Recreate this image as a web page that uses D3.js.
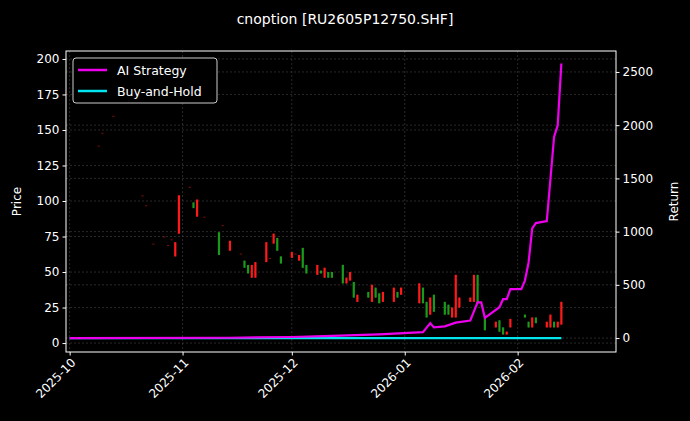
<!DOCTYPE html>
<html><head><meta charset="utf-8">
<script src="https://cdn.jsdelivr.net/npm/d3@7"></script>
<style>body{margin:0;background:#000}svg{font-family:"DejaVu Sans",sans-serif}</style>
</head><body><svg id="c" width="690" height="421"></svg>
<script>
// candle data: date, open, high, low, close
const candleDates = ["2025-10-09","2025-10-10","2025-10-13","2025-10-21","2025-10-22","2025-10-24","2025-10-27","2025-10-28","2025-10-29","2025-10-30","2025-10-31","2025-11-03","2025-11-04","2025-11-05","2025-11-07","2025-11-11","2025-11-12","2025-11-14","2025-11-17","2025-11-18","2025-11-19","2025-11-20","2025-11-21","2025-11-24","2025-11-25","2025-11-26","2025-11-27","2025-11-28","2025-12-01","2025-12-02","2025-12-03","2025-12-04","2025-12-05","2025-12-08","2025-12-09","2025-12-10","2025-12-11","2025-12-12","2025-12-15","2025-12-16","2025-12-17","2025-12-18","2025-12-19","2025-12-22","2025-12-23","2025-12-24","2025-12-25","2025-12-26","2025-12-29","2025-12-30","2025-12-31","2026-01-05","2026-01-06","2026-01-07","2026-01-08","2026-01-09","2026-01-12","2026-01-13","2026-01-14","2026-01-15","2026-01-16","2026-01-19","2026-01-20","2026-01-21","2026-01-23","2026-01-26","2026-01-27","2026-01-28","2026-01-29","2026-01-30","2026-02-03","2026-02-04","2026-02-05","2026-02-06","2026-02-09","2026-02-10","2026-02-11","2026-02-12","2026-02-13"];
const candleOpen  = [139,148,160,104,97,70,75,69,73,61,77,110,99,89,89,78,83,65,63,58,55,46,46,57,60,70,74,61,60,63,58,67,55,48,51,46,50,50,55,42,44,43,29,36,29,39,35,29,29,36,34,28,39,29,20,34,29,27,18,18,25,29,29,48,18,11,16,11,6,11,20,15,11,18,11,11,15,11,13];
const candleHigh  = [139,148,160,104,97,70,75,69,73,71,104,110,99,101,89,78,83,72,63,58,55,55,57,71,60,77,74,61,64,63,62,67,55,55,51,53,50,50,55,46,50,43,34,36,41,39,35,36,39,36,39,42,39,29,32,34,29,27,25,48,32,32,48,48,18,15,16,11,8,17,20,15,18,18,15,20,15,15,29];
const candleLow   = [139,148,160,104,97,70,75,69,73,61,77,110,95,89,89,62,83,65,63,53,49,46,46,57,60,70,65,56,60,63,58,53,49,48,49,46,46,46,42,42,44,32,29,32,29,32,28,29,29,32,34,28,28,18,20,22,20,20,18,18,25,29,29,28,9,11,8,6,6,11,18,11,11,14,11,11,11,11,13];
const candleClose = [139,148,160,104,97,70,75,69,73,71,104,110,95,101,89,62,83,72,63,53,49,55,57,71,60,77,65,56,64,63,62,53,49,55,49,53,46,46,42,46,50,32,34,32,41,32,28,36,39,32,39,42,28,18,32,22,20,20,25,48,32,32,48,28,9,15,8,6,8,17,18,11,18,14,15,20,11,15,29];
// return series
const strategyDates = ["2025-10-01","2025-11-14","2025-12-01","2025-12-12","2025-12-25","2026-01-06","2026-01-08","2026-01-09","2026-01-12","2026-01-15","2026-01-19","2026-01-20","2026-01-21","2026-01-22","2026-01-23","2026-01-27","2026-01-28","2026-01-29","2026-01-30","2026-02-02","2026-02-03","2026-02-04","2026-02-05","2026-02-06","2026-02-09","2026-02-11","2026-02-12","2026-02-13"];
const strategyValues = [0,3,10,20,35,55,140,100,110,145,165,250,335,335,190,290,365,365,460,460,540,710,1030,1080,1100,1890,2000,2580];
const holdDates = ["2025-10-01","2026-02-13"];
const holdValues = [0,0];
const leftTicks = [0,25,50,75,100,125,150,175,200];
const rightTicks = [0,500,1000,1500,2000,2500];
const xTicks = ["2025-10-01","2025-11-01","2025-12-01","2026-01-01","2026-02-01"];

const p = d3.timeParse("%Y-%m-%d");
const svg = d3.select("#c");
const L=66,R=616,T=51,B=352;
const x = d3.scaleTime().domain([p("2025-09-30"), p("2026-02-28")]).range([L,R]);
const y = d3.scaleLinear().domain([-6.3,205.6]).range([B,T]);
const y2 = d3.scaleLinear().domain([-131,2697]).range([B,T]);

svg.append("rect").attr("width",690).attr("height",421).attr("fill","#000");
const g = svg.append("g");
const gc="#444";
xTicks.forEach(t=>g.append("line").attr("x1",x(p(t))).attr("x2",x(p(t))).attr("y1",T).attr("y2",B).attr("stroke",gc).attr("stroke-width",0.6).attr("stroke-dasharray","2,2"));
leftTicks.forEach(t=>g.append("line").attr("x1",L).attr("x2",R).attr("y1",y(t)).attr("y2",y(t)).attr("stroke",gc).attr("stroke-width",0.6).attr("stroke-dasharray","2,2"));
rightTicks.forEach(t=>g.append("line").attr("x1",L).attr("x2",R).attr("y1",y2(t)).attr("y2",y2(t)).attr("stroke",gc).attr("stroke-width",0.6).attr("stroke-dasharray","2,2"));

const cw=2.2;
candleDates.forEach((d,i)=>{
  const o=candleOpen[i],h=candleHigh[i],l=candleLow[i],c=candleClose[i];
  const col = c>=o ? "#ff1a1a" : "#1a9a1a";
  const cx=x(p(d));
  g.append("line").attr("x1",cx).attr("x2",cx).attr("y1",y(h)).attr("y2",y(l)).attr("stroke",col).attr("stroke-width",0.8);
  const top=y(Math.max(o,c)), hh=Math.max(1,Math.abs(y(o)-y(c)));
  g.append("rect").attr("x",cx-cw/2).attr("y",top).attr("width",cw).attr("height",hh).attr("fill",col).attr("opacity",Math.abs(o-c)<0.5?0.5:1);
});

const line = d3.line().x(d=>x(d[0])).y(d=>y2(d[1]));
g.append("path").datum(holdDates.map((d,i)=>[p(d),holdValues[i]])).attr("d",line).attr("fill","none").attr("stroke","#00e5ee").attr("stroke-width",2.2);
g.append("path").datum(strategyDates.map((d,i)=>[p(d),strategyValues[i]])).attr("d",line).attr("fill","none").attr("stroke","#ee00ee").attr("stroke-width",2.2);

svg.append("rect").attr("x",L).attr("y",T).attr("width",R-L).attr("height",B-T).attr("fill","none").attr("stroke","#fff").attr("stroke-width",1);

const ax = svg.append("g").attr("transform",`translate(0,${B})`).call(d3.axisBottom(x).tickValues(xTicks.map(p)).tickFormat(d3.timeFormat("%Y-%m")).tickSize(3.5));
ax.selectAll("text").attr("transform","rotate(-45)").style("text-anchor","end").attr("dx","-0.3em").attr("dy","0.5em");
const ay = svg.append("g").attr("transform",`translate(${L},0)`).call(d3.axisLeft(y).tickValues(leftTicks).tickSize(3.5));
const ay2 = svg.append("g").attr("transform",`translate(${R},0)`).call(d3.axisRight(y2).tickValues(rightTicks).tickFormat(d3.format("d")).tickSize(3.5));
[ax,ay,ay2].forEach(a=>{a.select(".domain").remove();a.selectAll("line").attr("stroke","#fff");a.selectAll("text").attr("fill","#fff").style("font-size","12px").style("font-family","DejaVu Sans");});

svg.append("text").attr("x",345).attr("y",24).attr("text-anchor","middle").attr("fill","#fff").style("font-size","14px").text("cnoption [RU2605P12750.SHF]");
svg.append("text").attr("transform",`translate(21,${(T+B)/2}) rotate(-90)`).attr("text-anchor","middle").attr("fill","#fff").style("font-size","12px").text("Price");
svg.append("text").attr("transform",`translate(678,${(T+B)/2}) rotate(-90)`).attr("text-anchor","middle").attr("fill","#fff").style("font-size","12px").text("Return");

const lg = svg.append("g");
lg.append("rect").attr("x",73).attr("y",58).attr("width",144).attr("height",45).attr("rx",3).attr("fill","#000").attr("stroke","#ccc");
[["AI Strategy","#ee00ee"],["Buy-and-Hold","#00e5ee"]].forEach((e,i)=>{
  const yy=70+i*21;
  lg.append("line").attr("x1",78).attr("x2",107).attr("y1",yy).attr("y2",yy).attr("stroke",e[1]).attr("stroke-width",2.5);
  lg.append("text").attr("x",117).attr("y",yy+4.5).attr("fill","#fff").style("font-size","12.5px").text(e[0]);
});
</script></body></html>
